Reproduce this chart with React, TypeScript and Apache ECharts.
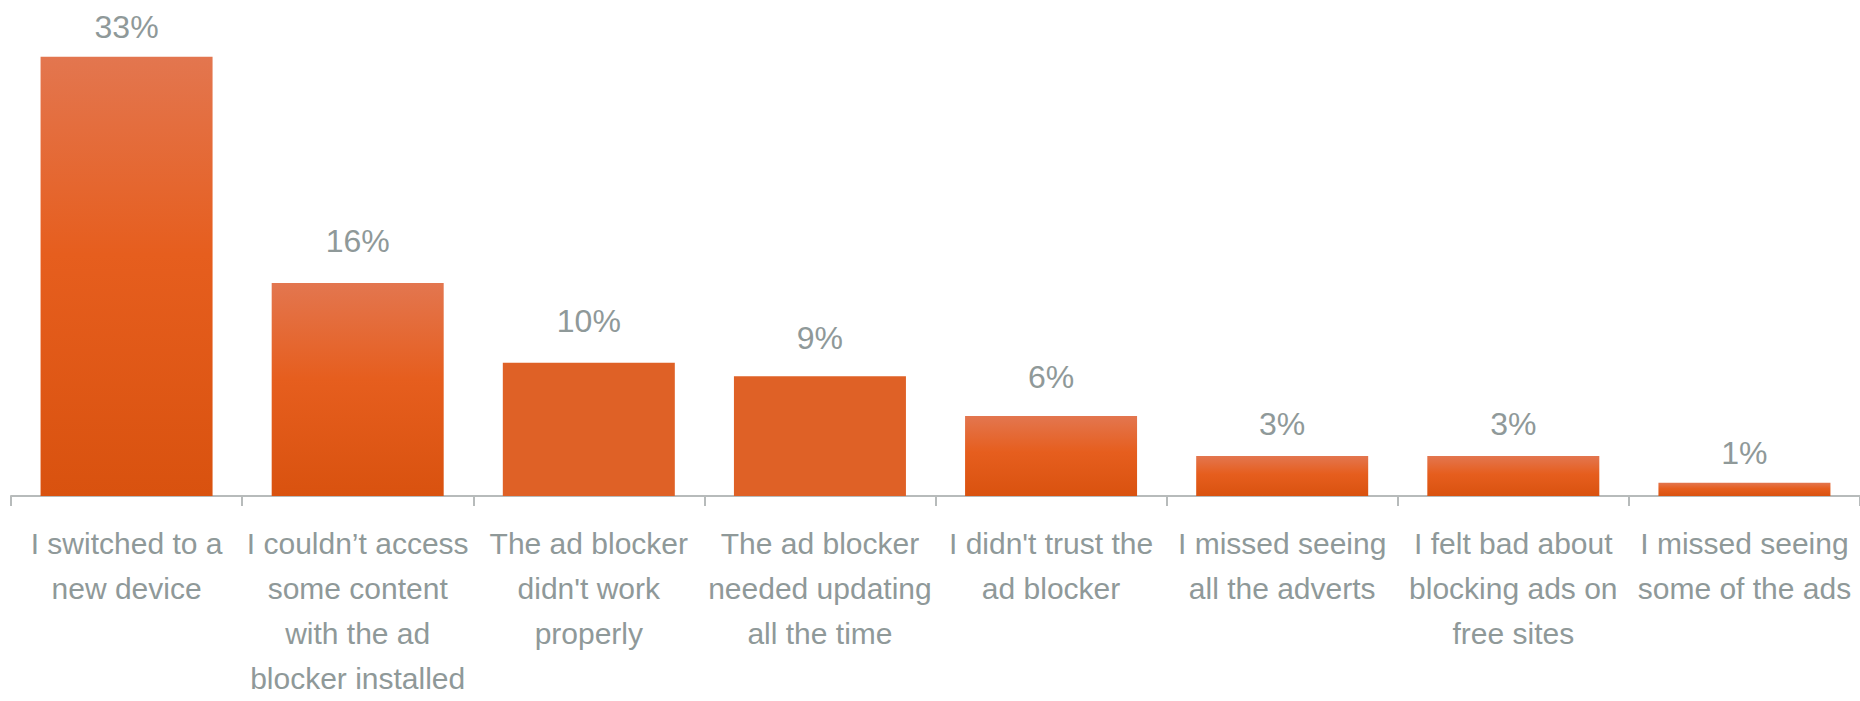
import React, { useEffect, useRef } from "react";
import * as echarts from "echarts";

const categories = [
  "I switched to a\nnew device",
  "I couldn’t access\nsome content\nwith the ad\nblocker installed",
  "The ad blocker\ndidn't work\nproperly",
  "The ad blocker\nneeded updating\nall the time",
  "I didn't trust the\nad blocker",
  "I missed seeing\nall the adverts",
  "I felt bad about\nblocking ads on\nfree sites",
  "I missed seeing\nsome of the ads",
];
const values = [33, 16, 10, 9, 6, 3, 3, 1];

// styling only: which bars are drawn flat, and how far each value label sits above its bar
const flatBars = [false, false, true, true, false, false, false, false];
const labelGaps = [14, 26, 26, 22, 23, 16, 16, 14];

const TEXT = "#8F9999";
const AXIS = "#B7BBBB";

export default function App() {
  const ref = useRef<HTMLDivElement>(null);
  useEffect(() => {
    if (!ref.current) return;
    const chart = echarts.init(ref.current, null, { renderer: "svg" });
    const grad = () =>
      new echarts.graphic.LinearGradient(0, 0, 0, 1, [
        { offset: 0, color: "#E3764F" },
        { offset: 0.45, color: "#E65E1E" },
        { offset: 1, color: "#D9520F" },
      ]);
    chart.setOption({
      animation: false,
      backgroundColor: "#ffffff",
      grid: { left: 11, width: 1855, top: 30, bottom: 198, containLabel: false },
      xAxis: {
        type: "category",
        data: categories,
        axisLine: { show: true, lineStyle: { color: AXIS, width: 2 } },
        axisTick: { show: true, length: 10, lineStyle: { color: AXIS, width: 2 } },
        axisLabel: {
          interval: 0,
          margin: 25,
          color: TEXT,
          fontFamily: "Liberation Sans",
          fontSize: 30,
          lineHeight: 45,
        },
      },
      yAxis: {
        type: "value",
        min: 0,
        max: 35,
        show: false,
        splitLine: { show: false },
      },
      series: [
        {
          type: "bar",
          barWidth: 172,
          data: values.map((v, i) => ({
            value: v,
            itemStyle: { color: flatBars[i] ? "#DF6126" : grad() },
            label: { distance: labelGaps[i] },
          })),
          label: {
            show: true,
            position: "top",
            distance: 14,
            formatter: "{c}%",
            color: TEXT,
            fontFamily: "Liberation Sans",
            fontSize: 32,
          },
        },
      ],
    });
    return () => chart.dispose();
  }, []);
  return (
    <div
      ref={ref}
      style={{ position: "absolute", left: 0, top: 0, width: 1860, height: 701 }}
    />
  );
}
